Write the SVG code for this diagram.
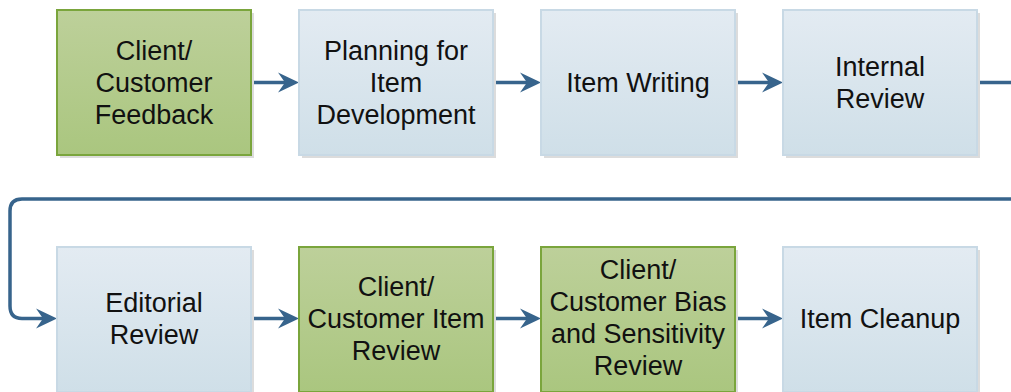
<svg xmlns="http://www.w3.org/2000/svg" width="1011" height="392" viewBox="0 0 1011 392">
  <style>
    .shadow { fill: #dcdcdc; }
    .green { fill: url(#gGreen); stroke: #7aa53c; stroke-width: 2; }
    .blue { fill: url(#gBlue); stroke: #c8d9e5; stroke-width: 2; }
    .label { font-family: "Liberation Sans", Arial, sans-serif; font-size: 27px; fill: #111; text-anchor: middle; }
    .conn { fill: none; stroke: #37648c; stroke-width: 3.5; }
  </style>
  <defs>
    <linearGradient id="gGreen" x1="0" y1="0" x2="0" y2="1">
      <stop offset="0" stop-color="#bdd09a"/>
      <stop offset="1" stop-color="#aac67f"/>
    </linearGradient>
    <linearGradient id="gBlue" x1="0" y1="0" x2="0" y2="1">
      <stop offset="0" stop-color="#e3ebf2"/>
      <stop offset="1" stop-color="#cfdfe8"/>
    </linearGradient>
    <marker id="arrow" markerUnits="userSpaceOnUse" markerWidth="24" markerHeight="24" refX="8" refY="10" orient="auto" overflow="visible">
      <path d="M0,0 L21,10 L0,20 L7,10 Z" fill="#37648c"/>
    </marker>
  </defs>

  <!-- connectors -->
  <g id="connectors">
    <path class="conn" d="M249,82.5 H286" marker-end="url(#arrow)"/>
    <path class="conn" d="M491,82.5 H528" marker-end="url(#arrow)"/>
    <path class="conn" d="M733,82.5 H770" marker-end="url(#arrow)"/>
    <path class="conn" d="M975,82.5 H1020 V199 H22 Q10,199 10,211 V306 Q10,318.5 22,318.5 H44" marker-end="url(#arrow)"/>
    <path class="conn" d="M249,318.5 H286" marker-end="url(#arrow)"/>
    <path class="conn" d="M491,318.5 H528" marker-end="url(#arrow)"/>
    <path class="conn" d="M733,318.5 H770" marker-end="url(#arrow)"/>
  </g>

  <!-- row 1 -->
  <g id="node-feedback">
    <rect class="shadow" x="60" y="13" width="194" height="145"/>
    <rect class="green" x="57" y="10" width="194" height="145"/>
    <text class="label" x="154" y="60">Client/</text>
    <text class="label" x="154" y="92">Customer</text>
    <text class="label" x="154" y="124">Feedback</text>
  </g>
  <g id="node-planning">
    <rect class="shadow" x="302" y="13" width="194" height="145"/>
    <rect class="blue" x="299" y="10" width="194" height="145"/>
    <text class="label" x="396" y="60">Planning for</text>
    <text class="label" x="396" y="92">Item</text>
    <text class="label" x="396" y="124">Development</text>
  </g>
  <g id="node-writing">
    <rect class="shadow" x="544" y="13" width="194" height="145"/>
    <rect class="blue" x="541" y="10" width="194" height="145"/>
    <text class="label" x="638" y="92">Item Writing</text>
  </g>
  <g id="node-internal">
    <rect class="shadow" x="786" y="13" width="194" height="145"/>
    <rect class="blue" x="783" y="10" width="194" height="145"/>
    <text class="label" x="880" y="76">Internal</text>
    <text class="label" x="880" y="108">Review</text>
  </g>

  <!-- row 2 -->
  <g id="node-editorial">
    <rect class="shadow" x="60" y="250" width="194" height="145"/>
    <rect class="blue" x="57" y="247" width="194" height="145"/>
    <text class="label" x="154" y="312">Editorial</text>
    <text class="label" x="154" y="344">Review</text>
  </g>
  <g id="node-client-item">
    <rect class="shadow" x="302" y="250" width="194" height="145"/>
    <rect class="green" x="299" y="247" width="194" height="145"/>
    <text class="label" x="396" y="296">Client/</text>
    <text class="label" x="396" y="328">Customer Item</text>
    <text class="label" x="396" y="360">Review</text>
  </g>
  <g id="node-bias">
    <rect class="shadow" x="544" y="250" width="194" height="145"/>
    <rect class="green" x="541" y="247" width="194" height="145"/>
    <text class="label" x="638" y="279">Client/</text>
    <text class="label" x="638" y="311">Customer Bias</text>
    <text class="label" x="638" y="343">and Sensitivity</text>
    <text class="label" x="638" y="375">Review</text>
  </g>
  <g id="node-cleanup">
    <rect class="shadow" x="786" y="250" width="194" height="145"/>
    <rect class="blue" x="783" y="247" width="194" height="145"/>
    <text class="label" x="880" y="328">Item Cleanup</text>
  </g>
</svg>
